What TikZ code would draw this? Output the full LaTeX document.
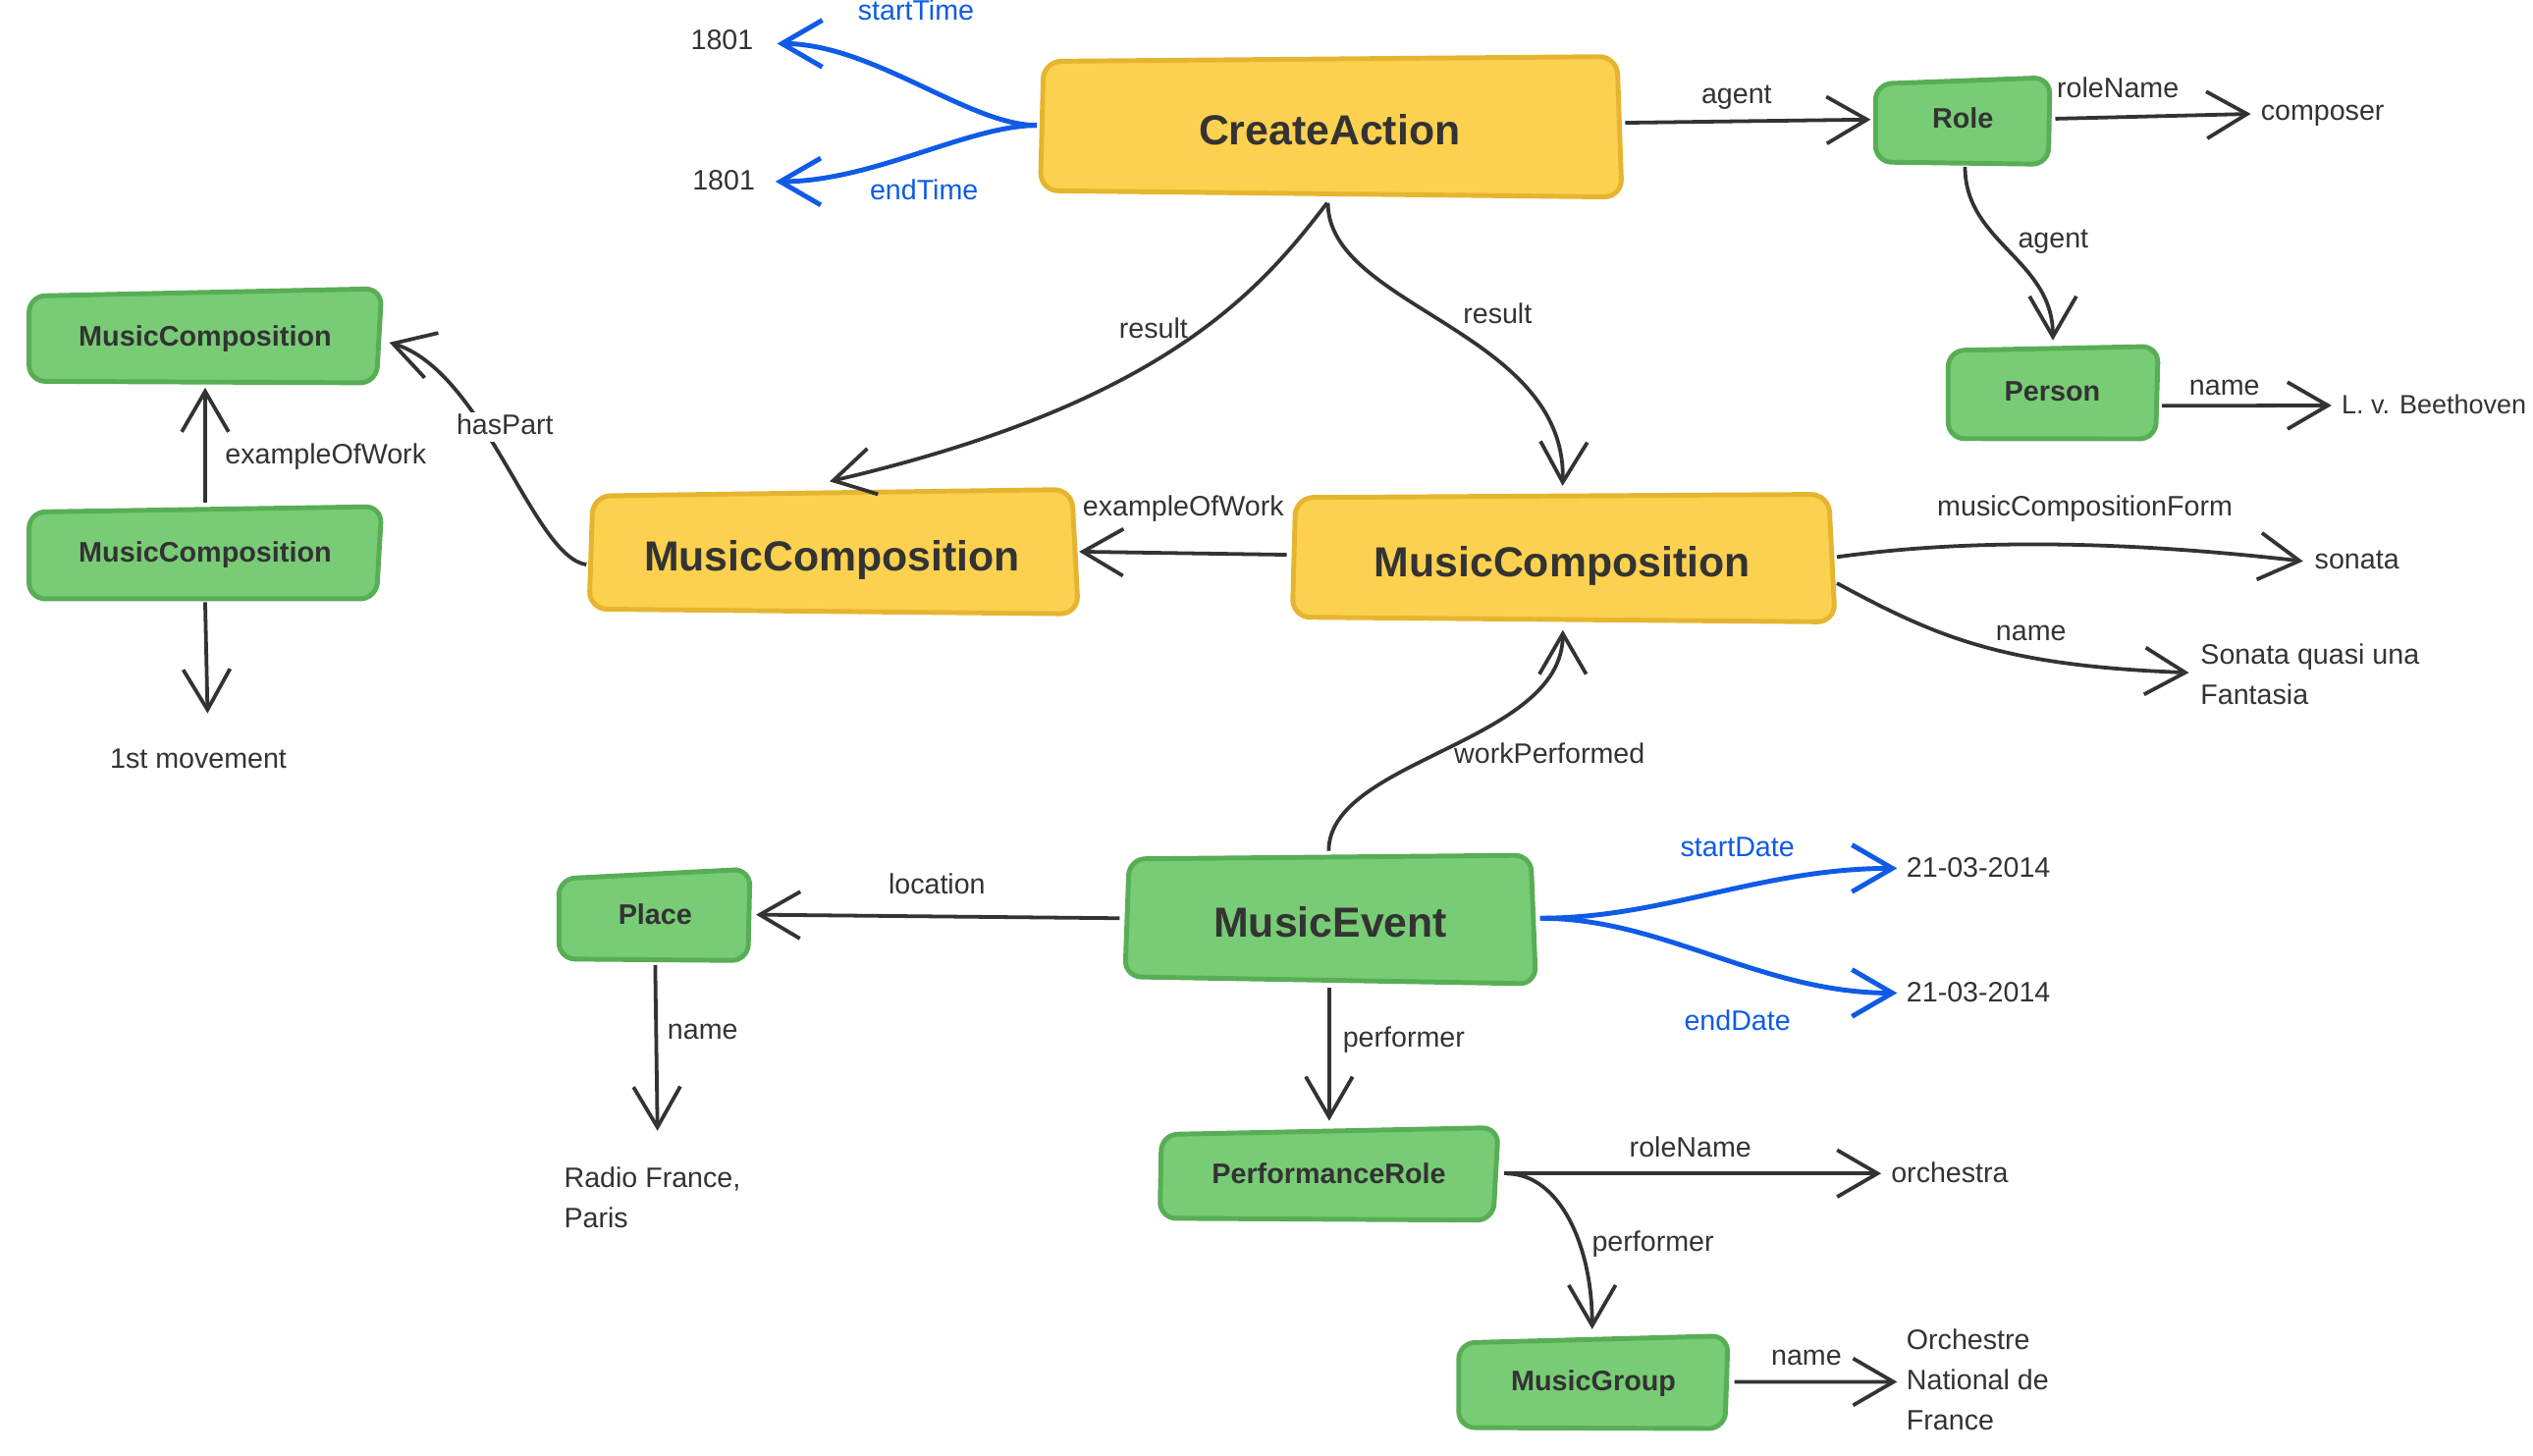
\documentclass[tikz,border=0pt]{standalone}
\usepackage{fontspec}
\setmainfont{Liberation Sans}
\usetikzlibrary{arrows.meta,calc}
\definecolor{ink}{HTML}{333333}
\definecolor{bl}{HTML}{0F5BE6}
\definecolor{gfill}{HTML}{79CC76}
\definecolor{gline}{HTML}{58AE55}
\definecolor{yfill}{HTML}{FBD14F}
\definecolor{yline}{HTML}{E6B52F}
\tikzset{
  lbl/.style={font=\fontsize{17.4}{25}\selectfont, text=ink, inner sep=0pt, text height=12.5pt, text depth=3.7pt},
  blbl/.style={lbl, text=bl},
  lit/.style={lbl, anchor=west},
  mlit/.style={font=\fontsize{17.4}{25}\selectfont, text=ink, inner sep=0pt, anchor=west, align=left},
  gtxt/.style={font=\fontsize{17.5}{21}\selectfont\bfseries, text=ink, inner sep=0pt, text height=12.6pt, text depth=3.7pt},
  ytxt/.style={font=\fontsize{26}{30}\selectfont\bfseries, text=ink, inner sep=0pt, text height=18.7pt, text depth=5.5pt},
  gbox/.style={draw=gline, fill=gfill, line width=3pt, rounded corners=10pt},
  ybox/.style={draw=yline, fill=yfill, line width=3pt, rounded corners=11pt},
  conn/.style={draw=ink, line width=2.3pt, -{Straight Barb[length=25pt,width=29pt]}},
  bconn/.style={conn, draw=bl, line width=3pt},
}
\begin{document}
\begin{tikzpicture}[x=1pt,y=-1pt]
\useasboundingbox (0,0) rectangle (1568,901);

% ---- box shapes (hand-drawn look)
\path[ybox] (646,38) -- (1001,35) -- (1004,122) -- (644,118) -- cycle;
\path[gbox] (1161,52) -- (1269,48) -- (1268,101.7) -- (1161,100.3) -- cycle;
\path[gbox] (1206,217) -- (1336,214.4) -- (1334.4,271.7) -- (1206,271.5) -- cycle;
\path[gbox] (18,183.3) -- (236.3,178.7) -- (233,237) -- (18,236) -- cycle;
\path[gbox] (18,317) -- (236.3,313.6) -- (233,370.7) -- (18,370.7) -- cycle;
\path[ybox] (367,307) -- (663.5,303) -- (667.5,380) -- (364.7,377) -- cycle;
\path[ybox] (802,308) -- (1132,306) -- (1136,385) -- (800,382) -- cycle;
\path[gbox] (699,531.7) -- (947.6,529.4) -- (950.7,609) -- (696.4,604.6) -- cycle;
\path[gbox] (346,544) -- (464.3,538) -- (463,594.6) -- (346,593.6) -- cycle;
\path[gbox] (719,702.3) -- (927.5,698) -- (924.3,755.3) -- (718,754.1) -- cycle;
\path[gbox] (903,831.3) -- (1069.7,826.9) -- (1067.8,884.3) -- (903,883.7) -- cycle;

% ---- class nodes
\node[ytxt] (ca) at (823,83.2) {CreateAction};
\node[gtxt] (role) at (1215,74.9) {Role};
\node[gtxt] (person) at (1270.5,243.9) {Person};
\node[gtxt] (mca) at (127,209.5) {MusicComposition};
\node[gtxt] (mcb) at (127,343.7) {MusicComposition};
\node[ytxt] (mcl) at (515,346.6) {MusicComposition};
\node[ytxt] (mcr) at (967,350.2) {MusicComposition};
\node[ytxt] (me) at (823.6,573.5) {MusicEvent};
\node[gtxt] (place) at (405.6,567.5) {Place};
\node[gtxt] (pr) at (822.6,727.9) {PerformanceRole};
\node[gtxt] (mg) at (986.4,856.6) {MusicGroup};

% ---- literal values
\node[lbl] (y1) at (447,26) {1801};
\node[lbl] (y2) at (448,113) {1801};
\node[lit] (composer) at (1399.3,70) {composer};
\node[lit, font=\fontsize{16.4}{25}\selectfont] (beet) at (1449.3,252) {L. v. Beethoven};
\node[lit] (sonata) at (1432.7,348) {sonata};
\node[mlit] (sq) at (1362,417.4) {Sonata quasi una\\Fantasia};
\node[lbl] (mv) at (122.8,471) {1st movement};
\node[lit] (d1) at (1180,538.5) {21-03-2014};
\node[lit] (d2) at (1180,615.7) {21-03-2014};
\node[mlit] (rf) at (349,741.5) {Radio France,\\Paris};
\node[lit] (orch) at (1170.5,727.4) {orchestra};
\node[mlit] (ond) at (1180,854) {Orchestre\\National de\\France};

% ---- connectors
\draw[bconn] ($(ca)+(-181.2,-5.6)$) .. controls +(-42,0) and +(59,0) .. ($(y1.east)+(14.5,1)$);
\draw[bconn] ($(ca)+(-181.2,-5.6)$) .. controls +(-42,0) and +(60,0) .. ($(y2.east)+(12.5,-0.6)$);
\draw[conn] ($(ca)+(183,-7.2)$) -- ($(role)+(-57,-0.9)$);
\draw[conn] ($(role)+(57.3,-1.4)$) -- ($(composer.west)+(-6,0.5)$);
\draw[conn] ($(role)+(1.4,28.4)$) .. controls +(0,47) and +(0,-50) .. ($(person)+(0.3,-33.2)$);
\draw[conn] ($(person)+(67.8,7.3)$) -- ($(beet.west)+(-6,-1)$);
\draw[conn] ($(ca)+(-1.5,42.4)$) .. controls +(-41.5,54.4) and +(206.4,-48) .. ($(mcl)+(-1.4,-48.6)$);
\draw[conn] ($(ca)+(-1,42.4)$) .. controls +(0,64.4) and +(2.7,-95.8) .. ($(mcr)+(0.3,-49.4)$);
\draw[conn] ($(mcr)+(-170.5,-6.8)$) -- ($(mcl)+(153,-5.1)$);
\draw[conn] ($(mcl)+(-152,2.9)$) .. controls +(-33,-4.5) and +(59,18) .. ($(mca)+(114,2.5)$);
\draw[conn] ($(mcb)+(0,-32.7)$) -- ($(mca)+(0,30.5)$);
\draw[conn] ($(mcb)+(0,29.1)$) -- ($(mv)+(5.7,-29.4)$);
\draw[conn] ($(mcr)+(170.1,-5.4)$) .. controls +(62.9,-8.8) and +(-135.7,-15.4) .. ($(sonata.west)+(-7,-0.6)$);
\draw[conn] ($(mcr)+(170.1,10.8)$) .. controls +(62.9,34) and +(-114.9,-4.3) .. ($(sq.west)+(-7,-1)$);
\draw[conn] ($(me)+(-1.1,-46.8)$) .. controls +(0,-56.7) and +(0,70) .. ($(mcr)+(0.4,39.8)$);
\draw[conn] ($(me)+(-130.6,-5.1)$) -- ($(place)+(62.4,-1.3)$);
\draw[bconn] ($(me)+(129.8,-5.1)$) .. controls +(76.6,0) and +(-84.4,0) .. ($(d1.west)+(-5.6,-1)$);
\draw[bconn] ($(me)+(129.8,-5.1)$) .. controls +(76.6,0) and +(-84.4,0) .. ($(d2.west)+(-5.6,-1)$);
\draw[conn] ($(me)+(-0.8,37.8)$) -- ($(pr)+(0.2,-34.1)$);
\draw[conn] ($(place)+(0,29.9)$) -- ($(rf.west)+(58,-41.5)$);
\draw[conn] ($(pr)+(108.7,-1.5)$) -- ($(orch.west)+(-6,-1)$);
\draw[conn] ($(pr)+(110.4,-1.4)$) .. controls +(32,0.5) and +(0,-52.8) .. ($(mg)+(-0.8,-33.8)$);
\draw[conn] ($(mg)+(87.2,-1.2)$) -- ($(ond.west)+(-5.6,1.4)$);

% ---- edge labels
\node[blbl] (lstart) at (567,8) {startTime};
\node[blbl] (lend) at (572,119) {endTime};
\node[lbl] (lagent) at (1075,60) {agent};
\node[lbl] (lrole) at (1311,56) {roleName};
\node[lbl] (lagent2) at (1271,149) {agent};
\node[lbl] (lname1) at (1377,240) {name};
\node[lbl] (lres1) at (714,205) {result};
\node[lbl] (lres2) at (927,196) {result};
\node[lbl] (lex1) at (732.5,315) {exampleOfWork};
\node[lbl, fill=white, inner sep=1pt] (lhas) at (312.6,264.4) {hasPart};
\node[lbl] (lex2) at (201.6,282.6) {exampleOfWork};
\node[lbl] (lmcf) at (1290.6,315) {musicCompositionForm};
\node[lbl] (lname2) at (1257.3,392) {name};
\node[lbl] (lwp) at (959.2,468) {workPerformed};
\node[lbl] (lloc) at (580,549) {location};
\node[blbl] (lsd) at (1075.5,526) {startDate};
\node[blbl] (led) at (1075.5,633.3) {endDate};
\node[lbl] (lname3) at (435,639) {name};
\node[lbl] (lperf1) at (869,644) {performer};
\node[lbl] (lrole2) at (1046.4,711.7) {roleName};
\node[lbl] (lperf2) at (1023.2,770) {performer};
\node[lbl] (lname4) at (1118.2,840.7) {name};
\end{tikzpicture}
\end{document}
